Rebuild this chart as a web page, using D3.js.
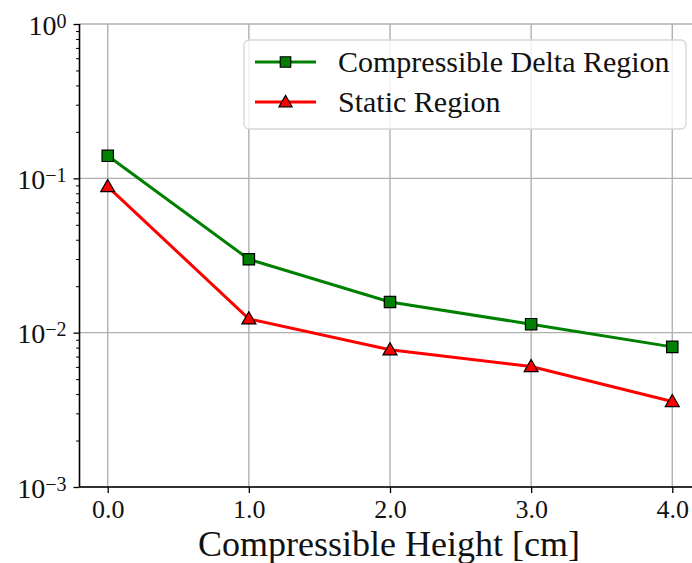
<!DOCTYPE html>
<html>
<head>
<meta charset="utf-8">
<script src="https://cdn.jsdelivr.net/npm/d3@7"></script>
<style>
  body { margin: 0; background: #fff; }
  text { font-family: "Liberation Serif", "DejaVu Serif", serif; }
</style>
</head>
<body>
<svg id="main"></svg>
<script>
//--------data----------
const heights = [0, 1, 2, 3, 4];
const deltaRegion = [0.140, 0.0299, 0.0158, 0.01135, 0.00809];
const staticRegion = [0.0884, 0.01228, 0.00774, 0.00603, 0.00358];
const xTicks = [0, 1, 2, 3, 4];
const yDecades = [-3, -2, -1, 0];
const seriesNames = ['Compressible Delta Region', 'Static Region'];

//--------code----------
let width = 692, height = 563;
let svg = d3.select('#main').attr('width', width).attr('height', height);

let sx = d3.scaleLinear().domain([-0.2, 4.2]).range([79.5, 700.5]);
let sy = d3.scaleLog().domain([1e-3, 1]).range([487, 24]);

// grid
svg.append('g').selectAll('line').data(xTicks).join('line')
  .attr('x1', d => sx(d)).attr('x2', d => sx(d))
  .attr('y1', sy.range()[0]).attr('y2', sy.range()[1])
  .attr('stroke', '#b0b0b0').attr('stroke-width', 1.4);
svg.append('g').selectAll('line').data(yDecades).join('line')
  .attr('x1', sx.range()[0]).attr('x2', sx.range()[1])
  .attr('y1', d => sy(Math.pow(10, d))).attr('y2', d => sy(Math.pow(10, d)))
  .attr('stroke', '#b0b0b0').attr('stroke-width', 1.4);

// x axis
let ax = d3.axisBottom(sx).tickValues(xTicks).tickSize(6).tickFormat(d3.format('.1f'));
let gx = svg.append('g').attr('transform', `translate(0,${sy.range()[0]})`).call(ax);
gx.select('.domain').attr('stroke', '#000').attr('stroke-width', 1.6).attr('d', `M${sx.range()[0]},0H${sx.range()[1]}`);
gx.selectAll('.tick line').attr('stroke-width', 1.3);
gx.selectAll('.tick text').attr('font-size', 26).attr('fill', '#111')
  .attr('y', 31).attr('dy', null)
  .style('font-family', '"Liberation Serif", serif');

// y axis (major + minor)
let minor = [];
for (let e = -3; e < 0; e++) for (let k = 2; k <= 9; k++) minor.push(k * Math.pow(10, e));
let gy = svg.append('g').attr('transform', `translate(${sx.range()[0]},0)`);
gy.append('g').call(d3.axisLeft(sy).tickValues(minor).tickSize(3.5).tickFormat(''))
  .call(g => g.select('.domain').remove())
  .selectAll('.tick line').attr('stroke-width', 1);
let majorG = gy.append('g').call(d3.axisLeft(sy).tickValues(yDecades.map(d => Math.pow(10, d))).tickSize(6).tickFormat(''));
majorG.select('.domain').attr('stroke-width', 1.6).attr('d', `M0,${sy.range()[0]}V${sy.range()[1]}`);
majorG.selectAll('.tick line').attr('stroke-width', 1.3);
majorG.selectAll('.tick').each(function(d) {
  let p = Math.round(Math.log10(d));
  let t = d3.select(this).append('text')
    .attr('x', -13).attr('y', 10).attr('text-anchor', 'end')
    .attr('fill', '#111').attr('font-size', 28);
  t.append('tspan').text('10');
  t.append('tspan').attr('dy', -7).attr('font-size', 20).text(p < 0 ? '\u2212' + (-p) : String(p));
});

// axis label
svg.append('text').attr('x', 389).attr('y', 556).attr('text-anchor', 'middle')
  .attr('font-size', 36).attr('fill', '#111').text('Compressible Height [cm]');

// lines
let line = d3.line().x((d, i) => sx(heights[i])).y(d => sy(d));
let series = [
  {name: seriesNames[0], values: deltaRegion, color: 'green', shape: d3.symbolSquare},
  {name: seriesNames[1], values: staticRegion, color: 'red', shape: d3.symbolTriangle}
];
for (let s of series) {
  svg.append('path').datum(s.values).attr('d', line)
    .attr('fill', 'none').attr('stroke', s.color).attr('stroke-width', 3);
}
for (let s of series) {
  let sz = s.shape === d3.symbolSquare ? 130 : 85;
  svg.append('g').selectAll('path').data(s.values).join('path')
    .attr('transform', (d, i) => `translate(${sx(heights[i])},${sy(d) + (s.shape === d3.symbolTriangle ? 1 : 0)})`)
    .attr('d', d3.symbol().type(s.shape).size(sz))
    .attr('fill', s.color).attr('stroke', '#000').attr('stroke-width', 1.2);
}

// legend
let lg = svg.append('g');
lg.append('rect').attr('x', 244).attr('y', 40).attr('width', 442).attr('height', 89)
  .attr('rx', 5).attr('fill', 'rgba(255,255,255,0.8)').attr('stroke', '#d6d6d6').attr('stroke-width', 1.3);
series.forEach((s, i) => {
  let y = 62 + i * 40;
  lg.append('line').attr('x1', 255).attr('x2', 316).attr('y1', y).attr('y2', y)
    .attr('stroke', s.color).attr('stroke-width', 3);
  lg.append('path').attr('transform', `translate(285.5,${y + (s.shape === d3.symbolTriangle ? 1 : 0)})`)
    .attr('d', d3.symbol().type(s.shape).size(s.shape === d3.symbolSquare ? 110 : 75))
    .attr('fill', s.color).attr('stroke', '#000').attr('stroke-width', 1.2);
  lg.append('text').attr('x', 338).attr('y', y + 10).attr('font-size', 30).attr('fill', '#111').text(s.name);
});
</script>
</body>
</html>
